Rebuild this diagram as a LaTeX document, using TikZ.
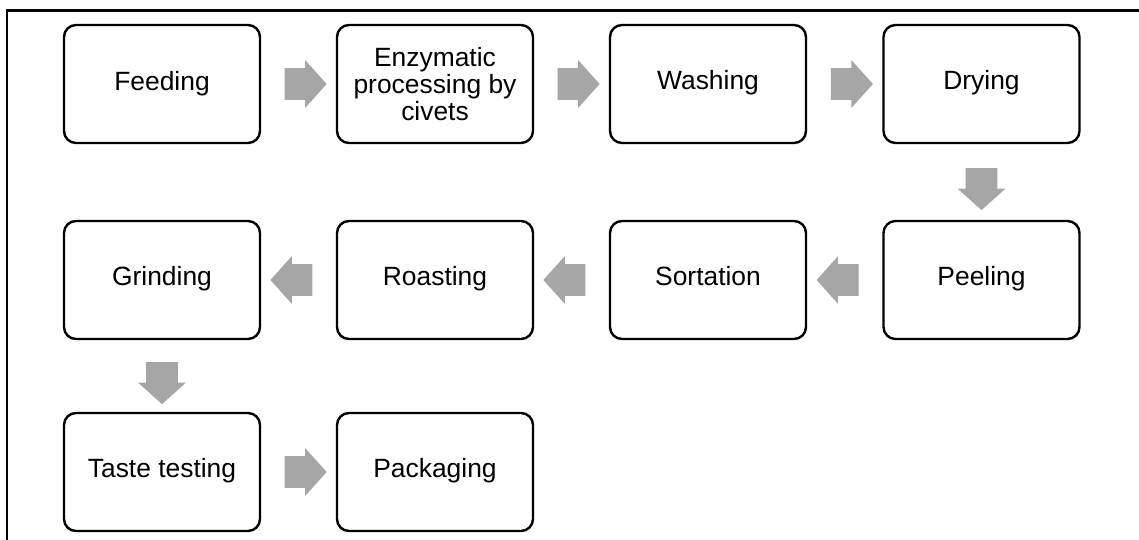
\documentclass[tikz,border=0pt]{standalone}
\usepackage{fontspec}
\setmainfont{Liberation Sans}
\usetikzlibrary{shapes.arrows}
\definecolor{arrowgray}{RGB}{166,166,166}

\tikzset{
  blockarrow/.style={single arrow, fill=arrowgray, outer sep=0pt,
    single arrow head extend=4pt, single arrow tip angle=96, minimum height=21pt},
  rightarrow/.style={blockarrow, inner xsep=0pt, inner ysep=7.75pt},
  leftarrow/.style={rightarrow, shape border rotate=180},
  downarrow/.style={blockarrow, inner xsep=7.75pt, inner ysep=0pt, shape border rotate=270}
}

\begin{document}
\begin{tikzpicture}[x=0.5pt,y=-0.5pt]

        \useasboundingbox (0,0) rectangle (1139,540);
        \draw[line width=1.3pt] (7,540) -- (7,10.5) -- (1139,10.5);

        \begin{scope}[every node/.style={draw, rounded corners=6pt, line width=1.2pt,
            minimum width=98pt, minimum height=59pt, align=center,
            font=\fontsize{13.2}{13.6}\selectfont}]
          \node (feed)   at (162,84)   {Feeding};
          \node (enzyme) at (435,84)   {Enzymatic\\processing by\\civets};
          \begin{scope}[every node/.append style={text height=0.75em, text depth=0.22em}]
            \node (wash)   at (708,84)   {Washing};
            \node (dry)    at (981.5,84) {Drying};
            \node (peel)   at (981.5,280) {Peeling};
            \node (sort)   at (708,280)  {Sortation};
            \node (roast)  at (435,280)  {Roasting};
            \node (grind)  at (162,280)  {Grinding};
            \node (taste)  at (162,472)  {Taste testing};
            \node (pack)   at (435,472)  {Packaging};
          \end{scope}
        \end{scope}

        \path (feed)   -- node[rightarrow] {} (enzyme);
        \path (enzyme) -- node[rightarrow] {} (wash);
        \path (wash)   -- node[rightarrow] {} (dry);
        \path (dry)    -- node[downarrow]  {} (peel);
        \path (peel)   -- node[leftarrow]  {} (sort);
        \path (sort)   -- node[leftarrow]  {} (roast);
        \path (roast)  -- node[leftarrow]  {} (grind);
        \path (grind)  -- node[downarrow]  {} (taste);
        \path (taste)  -- node[rightarrow] {} (pack);

      \end{tikzpicture}
\end{document}
